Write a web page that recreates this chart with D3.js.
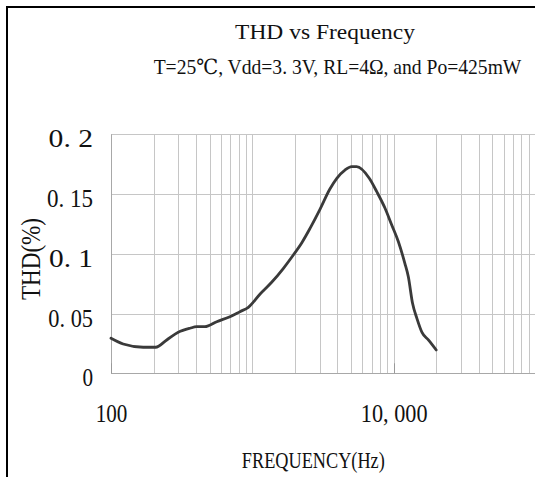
<!DOCTYPE html>
<html>
<head>
<meta charset="utf-8">
<script src="https://cdn.jsdelivr.net/npm/d3@7"></script>
<style>
  html, body { margin: 0; padding: 0; background: #fff; overflow: hidden; }
  svg { display: block; }
  text { font-family: "Liberation Serif", "DejaVu Serif", serif; fill: #111; }
</style>
</head>
<body>
<svg id="chart" width="535" height="477"></svg>
<script>
// ---- data ----
const titleText = "THD vs Frequency";
const subtitleText = "T=25\u2103, Vdd=3. 3V, RL=4\u03A9, and Po=425mW";
const xAxisTitle = "FREQUENCY(Hz)";
const yAxisTitle = "THD(%)";
const frequencyHz = [100, 122, 169, 207, 248, 299, 362, 404, 462, 560, 694, 817, 937, 1135, 1370, 1660, 1950, 2240, 2560, 3010, 3530, 3960, 4520, 5050, 5470, 6720, 7590, 8690, 9690, 10800, 12000, 12700, 13600, 14600, 15900, 17600, 20000];
const thdPercent  = [0.0293, 0.0245, 0.0218, 0.0218, 0.0279, 0.0343, 0.0377, 0.039, 0.039, 0.0432, 0.0474, 0.0516, 0.0552, 0.0664, 0.0762, 0.0879, 0.099, 0.1093, 0.1213, 0.1372, 0.154, 0.1632, 0.1701, 0.1729, 0.1729, 0.1632, 0.152, 0.1381, 0.1241, 0.1101, 0.092, 0.0808, 0.0586, 0.046, 0.034, 0.0279, 0.0195];
const yTicks = [0, 0.05, 0.1, 0.15, 0.2];
const yTickLabels = ["0", "0. 05", "0. 1", "0. 15", "0. 2"];
const xTicks = [100, 10000];
const xTickLabels = ["100", "10, 000"];
const xDomain = [100, 100000];
const yDomain = [0, 0.2];

// ---- layout / style ----
const W = 535, H = 477;
const plot = { left: 111, right: 535, top: 134.3, bottom: 373.3 };
const gridColor = "#c6c6c6";
const lineColor = "#3a3a3a";
const yLabelWidth = { "0": 10.6, "0. 05": 44.7, "0. 1": 44, "0. 15": 46, "0. 2": 44.4 };
const xLabelWidth = { "100": 31.7, "10, 000": 66.7 };

// horizontally scale a text element so its rendered width equals `width`
function fitWidth(node, width) {
  const n = node.getComputedTextLength();
  if (!n) return;
  const t = node.getAttribute("transform") || "";
  node.setAttribute("transform", `${t} scale(${(width / n).toFixed(4)},1)`);
}

const svg = d3.select("#chart");

// outer frame
svg.append("rect")
  .attr("x", 7).attr("y", 7)
  .attr("width", W + 20).attr("height", H + 20)
  .attr("fill", "#fff").attr("stroke", "#000").attr("stroke-width", 2);

const x = d3.scaleLog().domain(xDomain).range([plot.left, plot.right]);
const y = d3.scaleLinear().domain(yDomain).range([plot.bottom, plot.top]);

// vertical minor grid lines (1..9 x decade)
const gridX = [];
for (let dec = 100; dec < xDomain[1]; dec *= 10) {
  for (let m = 1; m <= 9; m++) gridX.push(dec * m);
}
gridX.push(xDomain[1]);

const grid = svg.append("g");
grid.selectAll("line.vx").data(gridX).join("line")
  .attr("class", "vx")
  .attr("x1", d => Math.round(x(d)) + 0.5).attr("x2", d => Math.round(x(d)) + 0.5)
  .attr("y1", plot.top).attr("y2", plot.bottom)
  .attr("stroke", gridColor).attr("stroke-width", 1);

grid.selectAll("line.hy").data(yTicks).join("line")
  .attr("class", "hy")
  .attr("x1", plot.left).attr("x2", plot.right + 5)
  .attr("y1", d => Math.round(y(d)) + 0.5).attr("y2", d => Math.round(y(d)) + 0.5)
  .attr("stroke", d => d === 0 ? "#a8a8a8" : gridColor).attr("stroke-width", 1);

// left axis line
grid.append("line")
  .attr("x1", plot.left + 0.5).attr("x2", plot.left + 0.5)
  .attr("y1", plot.top).attr("y2", plot.bottom)
  .attr("stroke", "#a8a8a8");

// small inner ticks at labelled frequencies
grid.selectAll("line.tk").data(xTicks).join("line")
  .attr("class", "tk")
  .attr("x1", d => Math.round(x(d)) + 0.5).attr("x2", d => Math.round(x(d)) + 0.5)
  .attr("y1", plot.bottom - 10).attr("y2", plot.bottom)
  .attr("stroke", "#999");

// y tick labels via axis generator
const yAxis = d3.axisLeft(y).tickValues(yTicks)
  .tickFormat((d, i) => yTickLabels[i]).tickSize(0).tickPadding(0);
const gy = svg.append("g").attr("transform", `translate(93,0)`).call(yAxis);
gy.select(".domain").remove();
gy.selectAll("text")
  .attr("x", 0).attr("dy", null).attr("y", 12.5)
  .attr("text-anchor", "end")
  .style("font-family", '"Liberation Serif", serif')
  .style("font-size", "26px").attr("fill", "#111")
  .attr("xml:space", "preserve")
  .each(function (d, i) { fitWidth(this, yLabelWidth[yTickLabels[i]]); });

// x tick labels via axis generator
const xAxis = d3.axisBottom(x).tickValues(xTicks)
  .tickFormat((d, i) => xTickLabels[i]).tickSize(0).tickPadding(0);
const gx = svg.append("g").attr("transform", `translate(0,421.5)`).call(xAxis);
gx.select(".domain").remove();
gx.selectAll("text")
  .attr("y", 0).attr("dy", null)
  .attr("text-anchor", "middle")
  .style("font-family", '"Liberation Serif", serif')
  .style("font-size", "26px").attr("fill", "#111")
  .attr("xml:space", "preserve")
  .each(function (d, i) { fitWidth(this, xLabelWidth[xTickLabels[i]]); });

// data line
const pts = frequencyHz.map((f, i) => [f, thdPercent[i]]);
const line = d3.line().x(d => x(d[0])).y(d => y(d[1])).curve(d3.curveMonotoneX);
svg.append("path").datum(pts)
  .attr("d", line)
  .attr("fill", "none").attr("stroke", lineColor)
  .attr("stroke-width", 2.8).attr("stroke-linejoin", "round").attr("stroke-linecap", "round");

// titles
const title = svg.append("text").text(titleText)
  .attr("transform", "translate(325,38.5)").attr("text-anchor", "middle")
  .style("font-size", "20px");
fitWidth(title.node(), 180);

const subtitle = svg.append("text").text(subtitleText)
  .attr("transform", "translate(337.5,73.5)").attr("text-anchor", "middle")
  .style("font-size", "21px")
  .attr("xml:space", "preserve");
fitWidth(subtitle.node(), 368);

const xt = svg.append("text").text(xAxisTitle)
  .attr("transform", "translate(313.3,468)").attr("text-anchor", "middle")
  .style("font-size", "24px");
fitWidth(xt.node(), 143);

const yt = svg.append("text").text(yAxisTitle)
  .attr("transform", "translate(40,259) rotate(-90)")
  .attr("text-anchor", "middle")
  .style("font-size", "27px");
fitWidth(yt.node(), 82);
</script>
</body>
</html>
